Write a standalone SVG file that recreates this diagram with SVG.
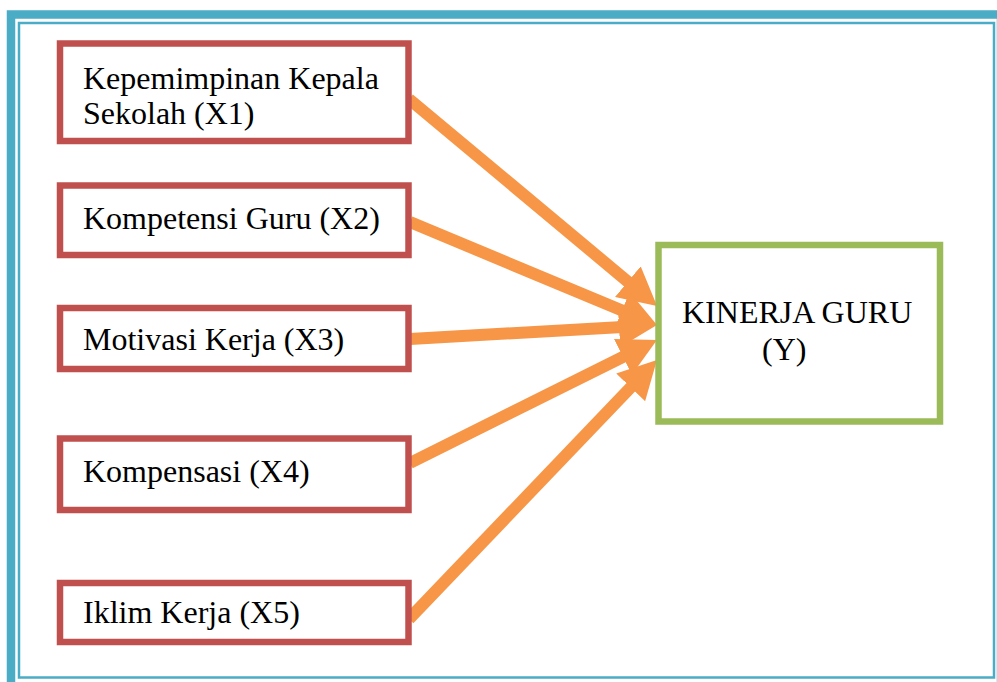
<svg xmlns="http://www.w3.org/2000/svg" width="997" height="682" viewBox="0 0 997 682">
<style>
.frame{fill:none;stroke:#4BACC6}
.src{fill:#fff;stroke:#C0504D;stroke-width:6.5}
.dst{fill:#fff;stroke:#9BBB59;stroke-width:6.5}
.lbl{font-family:"Liberation Serif","Times New Roman",serif;font-size:32px;fill:#000}
.arr{stroke:#F79646;stroke-width:12;fill:none;marker-end:url(#head)}
</style>
<defs>
<marker id="head" markerUnits="userSpaceOnUse" markerWidth="38" markerHeight="40" refX="8" refY="20" orient="auto" viewBox="0 0 38 40">
<path d="M0,0 L38,20 L0,40 z" fill="#F79646"/>
</marker>
</defs>
<rect width="997" height="682" fill="#fff"/>
<g id="frame">
<rect class="frame" x="11" y="14.5" width="990" height="672" stroke-width="8.5"/>
<rect class="frame" x="19" y="23" width="975" height="654.5" stroke-width="2.5"/>
</g>
<g id="connectors">
<line class="arr" x1="409" y1="99" x2="634.0" y2="286.8"/>
<line class="arr" x1="410" y1="222" x2="629.3" y2="313.5"/>
<line class="arr" x1="410" y1="339" x2="627.0" y2="326.7"/>
<line class="arr" x1="410" y1="463" x2="630.1" y2="353.3"/>
<line class="arr" x1="409" y1="619" x2="636.2" y2="381.6"/>
</g>
<g id="x1">
<rect class="src" x="60" y="43.5" width="348.5" height="97.5"/>
<text class="lbl" x="83" y="89">Kepemimpinan Kepala</text>
<text class="lbl" x="83" y="124">Sekolah (X1)</text>
</g>
<g id="x2">
<rect class="src" x="60" y="185.5" width="348.5" height="69.5"/>
<text class="lbl" x="83" y="228.5">Kompetensi Guru (X2)</text>
</g>
<g id="x3">
<rect class="src" x="60" y="308" width="348.5" height="61"/>
<text class="lbl" x="83" y="350">Motivasi Kerja (X3)</text>
</g>
<g id="x4">
<rect class="src" x="60" y="438.5" width="348.5" height="71.5"/>
<text class="lbl" x="83" y="481.5">Kompensasi (X4)</text>
</g>
<g id="x5">
<rect class="src" x="60" y="583" width="348.5" height="59"/>
<text class="lbl" x="83" y="623">Iklim Kerja (X5)</text>
</g>
<g id="y">
<rect class="dst" x="658.5" y="245" width="281.5" height="176.5"/>
<text class="lbl" x="682" y="322.5">KINERJA GURU</text>
<text class="lbl" x="762" y="360">(Y)</text>
</g>
</svg>
